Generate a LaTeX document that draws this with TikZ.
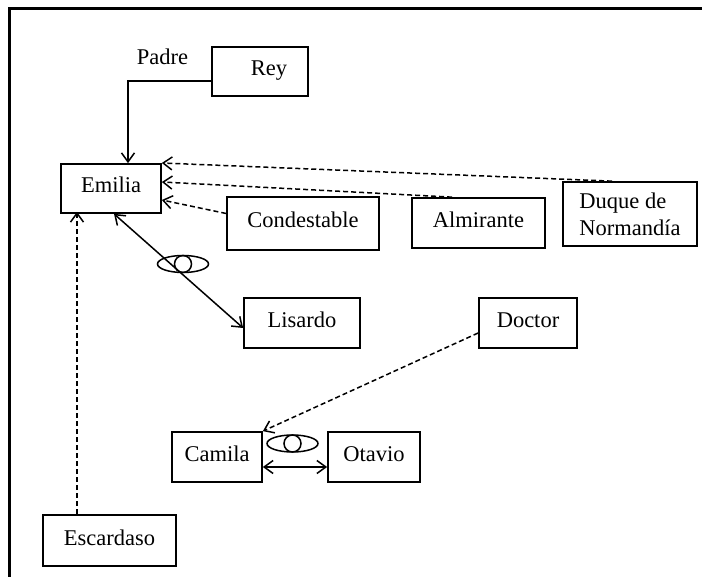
\documentclass[tikz,border=0pt]{standalone}
\usepackage{fontspec}
\setmainfont{Liberation Serif}
\usetikzlibrary{arrows.meta}
\begin{document}
\begin{tikzpicture}[x=1pt,y=-1pt,
  font=\fontsize{22.5}{27}\selectfont,
  box/.style={draw, line width=1.7pt, inner sep=0pt, text height=15pt, text depth=6pt},
  rel/.style={line width=1.5pt, -{Straight Barb[length=9pt,width=13pt]}},
  both/.style={line width=1.5pt, {Straight Barb[length=9pt,width=13pt]}-{Straight Barb[length=9pt,width=13pt]}},
  hint/.style={rel, dash pattern=on 5pt off 3pt},
  rings/.style={line width=1.5pt}]
  \useasboundingbox (0,0) rectangle (702,577);
  % frame on the top and left edges
  \draw[line width=3pt] (702,9) -- (9,9) -- (9,577);

  % characters
  \node[box, minimum width=96, minimum height=49] (rey) at (260,71.5) {\hspace{18pt}Rey};
  \node[box, minimum width=100, minimum height=49] (emilia) at (111,188.5) {Emilia};
  \node[box, minimum width=152, minimum height=53] (condestable) at (303,223.5) {Condestable};
  \node[box, minimum width=133, minimum height=50] (almirante) at (478.5,223) {Almirante};
  \node[draw, line width=1.7pt, inner sep=0pt, align=left, minimum width=134, minimum height=64] (duque) at (630,214) {Duque de\\Normandía};
  \node[box, minimum width=116, minimum height=50] (lisardo) at (302,323) {Lisardo};
  \node[box, minimum width=98, minimum height=50] (doctor) at (528,323) {Doctor\hspace{10pt}};
  \node[box, minimum width=90, minimum height=50] (camila) at (217,457) {Camila};
  \node[box, minimum width=92, minimum height=50] (otavio) at (374,457) {Otavio};
  \node[box, minimum width=133, minimum height=51] (escardaso) at (109.5,540.5) {Escardaso\hspace{12pt}};

  \node[anchor=base] (padre) at (162.5,65) {Padre};

  % father
  \draw[rel] ([yshift=-9.5pt]rey.west) -| ([xshift=17pt]emilia.north);

  % suitors pointing at Emilia
  \draw[hint] ([xshift=-18pt]duque.north) -- ([yshift=25.5pt]emilia.east);
  \draw[hint] ([xshift=-26.5pt]almirante.north) -- ([yshift=6.5pt]emilia.east);
  \draw[hint] ([yshift=10pt]condestable.west) -- ([yshift=-11.5pt]emilia.east);
  \draw[hint] ([xshift=-32.5pt]escardaso.north) -- ([xshift=-34pt,yshift=2pt]emilia.south);

  % couples
  \draw[both] ([xshift=3pt]emilia.south) -- ([yshift=-5pt]lisardo.west);
  \draw[both] ([yshift=-10pt]camila.east) -- ([yshift=-10pt]otavio.west);
  \draw[hint] ([yshift=-10pt]doctor.west) -- (camila.north east);

  % wedding rings
  \draw[rings] (183,264) ellipse [x radius=25.5, y radius=8.5];
  \draw[rings] (183,264) circle [radius=8.5];
  \draw[rings] (292.5,443.5) ellipse [x radius=25.5, y radius=8.5];
  \draw[rings] (292.5,443.5) circle [radius=8.5];
\end{tikzpicture}
\end{document}
